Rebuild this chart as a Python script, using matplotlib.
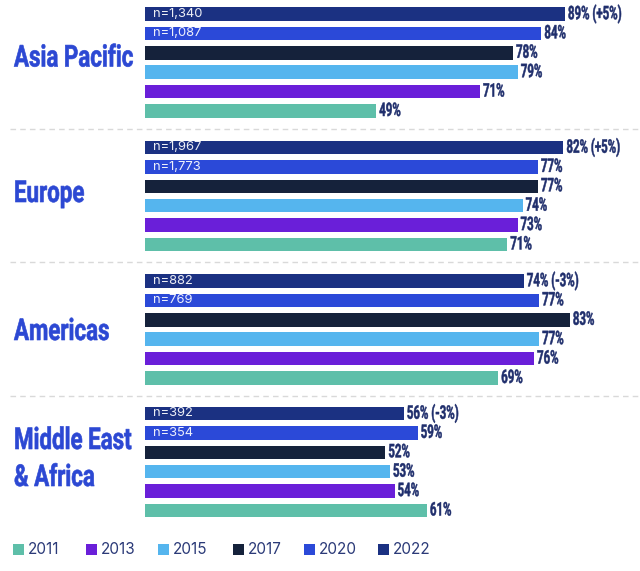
import matplotlib
matplotlib.use('Agg')
import matplotlib.pyplot as plt
from matplotlib import font_manager as fm
from matplotlib import patheffects
from matplotlib.transforms import Affine2D
from matplotlib.lines import Line2D
from matplotlib.patches import Rectangle

# ---------------- data ----------------
regions = ['Asia Pacific', 'Europe', 'Americas', 'Middle East\n& Africa']
years = ['2022', '2020', '2017', '2015', '2013', '2011']  # top to bottom in each panel
asia_pacific = [89, 84, 78, 79, 71, 49]
europe = [82, 77, 77, 74, 73, 71]
americas = [74, 77, 83, 77, 76, 69]
middle_east_africa = [56, 59, 52, 53, 54, 61]
n_2022 = ['n=1,340', 'n=1,967', 'n=882', 'n=392']
n_2020 = ['n=1,087', 'n=1,773', 'n=769', 'n=354']
change_2022 = ['(+5%)', '(+5%)', '(-3%)', '(-3%)']
legend_years = ['2011', '2013', '2015', '2017', '2020', '2022']

values = [asia_pacific, europe, americas, middle_east_africa]

# ---------------- style ----------------
colors = {'2022': '#1B3182', '2020': '#2B49D8', '2017': '#15223B',
          '2015': '#55B5EE', '2013': '#6A1FD9', '2011': '#5EBFA9'}

names = {f.name for f in fm.fontManager.ttflist}
bold_font = 'Roboto' if 'Roboto' in names else 'DejaVu Sans'
reg_font = 'Inter' if 'Inter' in names else 'DejaVu Sans'


class Condense(patheffects.AbstractPathEffect):
    """Draw text glyphs horizontally compressed (condensed look), slightly emboldened."""
    def __init__(self, sx, stroke=0.0):
        super().__init__()
        self.sx = sx
        self.stroke = stroke

    def draw_path(self, renderer, gc, tpath, affine, rgbFace=None):
        tr = Affine2D().scale(self.sx, 1) + affine
        if self.stroke > 0:
            gc0 = renderer.new_gc()
            gc0.copy_properties(gc)
            gc0.set_linewidth(self.stroke)
            gc0.set_foreground(rgbFace)
            gc0.set_joinstyle('round')
            renderer.draw_path(gc0, tpath, tr, rgbFace)
            gc0.restore()
        else:
            renderer.draw_path(gc, tpath, tr, rgbFace)


W, H = 640, 571
fig = plt.figure(figsize=(W / 100, H / 100), dpi=100)
fig.patch.set_facecolor('white')

def rect(l, t, w, h):
    return [l / W, 1 - (t + h) / H, w / W, h / H]

row_h = 19.4
panel_tops = [4.3, 137.8, 271.3, 403.8]
panel_xmax = [104.9, 97.0, 96.7, 107.1]
label_baselines = [66.5, 202, 340, 449]
line_step = 37
ax_left, ax_w = 145, 495

navy = '#1F2E6C'
region_blue = '#2C48D3'

for k, (reg, vals) in enumerate(zip(regions, values)):
    ax = fig.add_axes(rect(ax_left, panel_tops[k], ax_w, 6 * row_h))
    ax.set_xlim(0, panel_xmax[k])
    ax.set_ylim(5.5, -0.5)
    ax.axis('off')
    ys = list(range(len(years)))
    ax.barh(ys, vals, height=0.7, color=[colors[y] for y in years], linewidth=0)
    for i, v in enumerate(vals):
        lab = f'{v}%'
        if i == 0:
            lab += ' ' + change_2022[k]
        ax.annotate(lab, xy=(v, i), xytext=(3, 0), textcoords='offset pixels',
                    ha='left', va='center', fontsize=13.5, fontweight='bold',
                    color=navy, family=bold_font,
                    path_effects=[Condense(0.61, 0.35)])
    for i, nl in zip([0, 1], [n_2022[k], n_2020[k]]):
        ax.annotate(nl, xy=(0, i), xytext=(8, 0), textcoords='offset pixels',
                    ha='left', va='center', fontsize=9.3, color='white',
                    alpha=0.92, family=reg_font)
    for j, line in enumerate(reg.split('\n')):
        yb = label_baselines[k] + j * line_step
        fig.text(14 / W, 1 - yb / H, line, ha='left', va='baseline', fontsize=21.7,
                 fontweight='bold', color=region_blue, family=bold_font,
                 path_effects=[Condense(0.74, 0.45)])

# dashed separators
for ysep in [129, 262.5, 396]:
    fig.add_artist(Line2D([10 / W, 1], [1 - ysep / H] * 2, color='#D9D9D9',
                          lw=1, linestyle=(0, (4, 3))))

# legend
leg_x = [13, 86, 158, 233, 304, 378]
ly = 549
for x, yr in zip(leg_x, legend_years):
    fig.add_artist(Rectangle((x / W, 1 - (ly + 5.5) / H), 11 / W, 11 / H,
                             transform=fig.transFigure, color=colors[yr], lw=0))
    fig.text((x + 15) / W, 1 - ly / H, yr, ha='left', va='center', fontsize=11,
             color='#2B3A78', family=reg_font)

fig.savefig('out.png', dpi=100, facecolor='white')
